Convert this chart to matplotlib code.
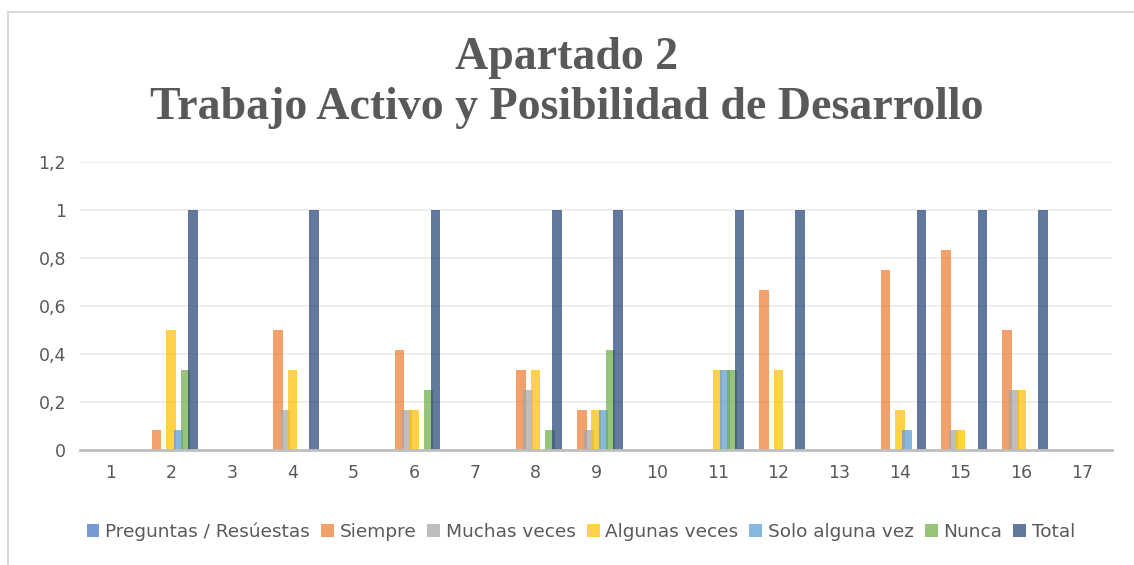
import matplotlib.pyplot as plt
from matplotlib.lines import Line2D
import numpy as np

categories = [str(i) for i in range(1, 18)]
series_names = ['Preguntas / Resúestas', 'Siempre', 'Muchas veces', 'Algunas veces',
                'Solo alguna vez', 'Nunca', 'Total']
preguntas = [0] * 17
siempre = [0, 0.083, 0, 0.5, 0, 0.417, 0, 0.333, 0.167, 0, 0, 0.667, 0, 0.75, 0.833, 0.5, 0]
muchas = [0, 0, 0, 0.167, 0, 0.167, 0, 0.25, 0.083, 0, 0, 0, 0, 0, 0.083, 0.25, 0]
algunas = [0, 0.5, 0, 0.333, 0, 0.167, 0, 0.333, 0.167, 0, 0.333, 0.333, 0, 0.167, 0.083, 0.25, 0]
solo = [0, 0.083, 0, 0, 0, 0, 0, 0, 0.167, 0, 0.333, 0, 0, 0.083, 0, 0, 0]
nunca = [0, 0.333, 0, 0, 0, 0.25, 0, 0.083, 0.417, 0, 0.333, 0, 0, 0, 0, 0, 0]
total = [0, 1, 0, 1, 0, 1, 0, 1, 1, 0, 1, 1, 0, 1, 1, 1, 0]
colors = ['#4472C4', '#ED7D31', '#A5A5A5', '#FFC000', '#5B9BD5', '#70AD47', '#264478']

data = [preguntas, siempre, muchas, algunas, solo, nunca, total]

fig = plt.figure(figsize=(11.34, 5.65), dpi=100)
ax = fig.add_axes([0.0705, 0.2035, 0.9105, 0.5095])

x = np.arange(1, 18)
step = 0.119
width = 0.157
for i, (vals, name, c) in enumerate(zip(data, series_names, colors)):
    ax.bar(x + (i - 3) * step, vals, width=width, color=c, alpha=0.72, label=name, zorder=2 + i)

ax.set_xlim(0.5, 17.5)
ax.set_ylim(0, 1.2)
ax.set_yticks(np.arange(0, 1.21, 0.2))
ax.set_yticklabels(['0', '0,2', '0,4', '0,6', '0,8', '1', '1,2'])
ax.set_xticks(x)
ax.set_xticklabels(categories)
ax.tick_params(length=0, labelsize=12.5, labelcolor='#595959', pad=10)
ax.grid(axis='y', color='#EBEBEB', linewidth=1.2, zorder=0)
for s in ['top', 'right', 'left']:
    ax.spines[s].set_visible(False)
ax.spines['bottom'].set_color('#BFBFBF')
ax.spines['bottom'].set_linewidth(2)
ax.spines['bottom'].set_zorder(10)

fig.text(0.5, 0.897, 'Apartado 2', ha='center', va='center', fontsize=33,
         fontweight='bold', family='Liberation Serif', color='#595959')
fig.text(0.5, 0.808, 'Trabajo Activo y Posibilidad de Desarrollo', ha='center', va='center',
         fontsize=33, fontweight='bold', family='Liberation Serif', color='#595959')

leg = ax.legend(loc='center', bbox_to_anchor=(0.485, -0.285), ncol=7, frameon=False,
                fontsize=13.3, handlelength=0.7, handleheight=0.7, handletextpad=0.3,
                columnspacing=0.6)
for t in leg.get_texts():
    t.set_color('#595959')

# chart border
fig.add_artist(Line2D([8 / 1134, 1], [1 - 12 / 565, 1 - 12 / 565], color='#D9D9D9', linewidth=1.5))
fig.add_artist(Line2D([8 / 1134, 8 / 1134], [0, 1 - 12 / 565], color='#D9D9D9', linewidth=1.5))

fig.savefig('out.png', dpi=100)
